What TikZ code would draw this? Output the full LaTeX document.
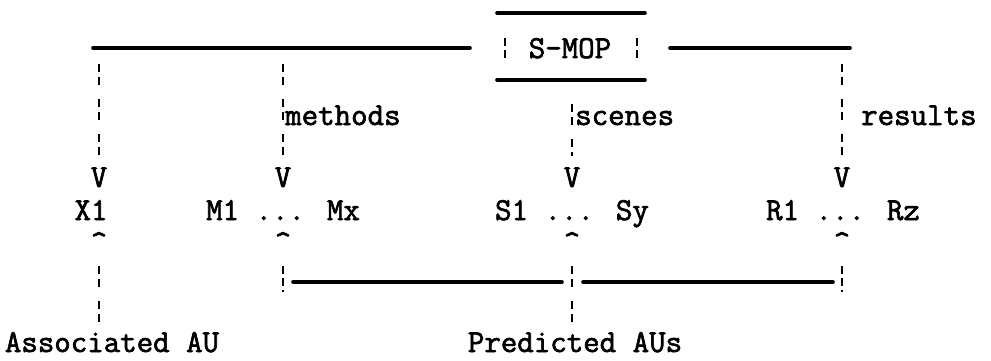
\documentclass[tikz,border=0pt]{standalone}
\usepackage{fontspec}
\newfontfamily\dmfont[FakeBold=2]{Latin Modern Mono}
\begin{document}
\begin{tikzpicture}[x=1pt,y=-1pt,
  txt/.style={font=\dmfont\bfseries\fontsize{32}{34}\selectfont, inner sep=0pt, anchor=base},
  lbl/.style={txt, anchor=base west},
  hline/.style={line width=3.6pt, line cap=round},
  vline/.style={line width=2.6pt, dash pattern=on 8pt off 5pt on 8pt off 14pt},
  vbar/.style={line width=2.6pt, dash pattern=on 8pt off 4pt}]
\useasboundingbox (0,0) rectangle (991,360);
% S-MOP box
\node[txt] (smop) at (570,58) {S-MOP};
\coordinate (bt1) at (497,13); \coordinate (bt2) at (645,13);
\coordinate (bb1) at (497,80); \coordinate (bb2) at (645,80);
\draw[hline] (bt1) -- (bt2);
\draw[hline] (bb1) -- (bb2);
\coordinate (sl1) at (505,38); \coordinate (sl2) at (505,58);
\coordinate (sr1) at (637,38); \coordinate (sr2) at (637,58);
\draw[vbar] (sl1) -- (sl2);
\draw[vbar] (sr1) -- (sr2);
% top lines
\coordinate (tlA) at (93,48); \coordinate (tlB) at (470,48);
\coordinate (trA) at (670,48); \coordinate (trB) at (850,48);
\draw[hline] (tlA) -- (tlB);
\draw[hline] (trA) -- (trB);
% labels
\node[lbl] (lm) at (285,125) {methods};
\node[lbl] (ls) at (575,125) {scenes};
\node[lbl] (lr) at (861,125) {results};
% V arrowheads
\node[txt] (vx) at (99,187) {V};
\node[txt] (vm) at (283,187) {V};
\node[txt] (vs) at (572,187) {V};
\node[txt] (vr) at (842,187) {V};
% row of items
\node[txt] (x1) at (91,220) {X1};
\node[txt] (mm) at (283,220) {M1 ... Mx};
\node[txt] (ss) at (572,220) {S1 ... Sy};
\node[txt] (rr) at (843,220) {R1 ... Rz};
% carets
\node[txt] (cx) at (99,252) {\char`\^};
\node[txt] (cm) at (283,252) {\char`\^};
\node[txt] (cs) at (572,252) {\char`\^};
\node[txt] (cr) at (842,252) {\char`\^};
% upper verticals
\coordinate (ux0) at (99,64);  \coordinate (ux1) at (99,156);
\coordinate (um0) at (283,64); \coordinate (um1) at (283,156);
\coordinate (us0) at (572,104); \coordinate (us1) at (572,156);
\coordinate (ur0) at (842,64); \coordinate (ur1) at (842,156);
\draw[vline] (ux0) -- (ux1);
\draw[vline] (um0) -- (um1);
\draw[vline] (us0) -- (us1);
\draw[vline] (ur0) -- (ur1);
% lower verticals
\coordinate (dx0) at (99,266);  \coordinate (dx1) at (99,323);
\coordinate (dm0) at (283,266); \coordinate (dm1) at (283,292);
\coordinate (ds0) at (572,266); \coordinate (ds1) at (572,323);
\coordinate (dr0) at (842,266); \coordinate (dr1) at (842,292);
\draw[vline] (dx0) -- (dx1);
\draw[vbar] (dm0) -- (dm1);
\draw[vline] (ds0) -- (ds1);
\draw[vbar] (dr0) -- (dr1);
% bottom line
\coordinate (bl1) at (293,282); \coordinate (bl2) at (562,282);
\coordinate (bl3) at (583,282); \coordinate (bl4) at (833,282);
\draw[hline] (bl1) -- (bl2);
\draw[hline] (bl3) -- (bl4);
% bottom labels
\node[txt] (aau) at (112,352) {Associated AU};
\node[txt] (pau) at (575,352) {Predicted AUs};
\end{tikzpicture}
\end{document}
